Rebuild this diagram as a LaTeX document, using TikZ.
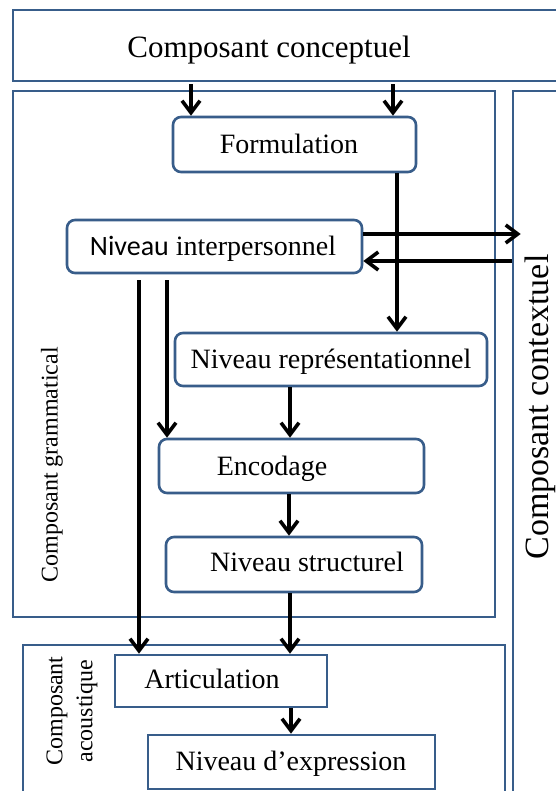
\documentclass[tikz,border=0pt]{standalone}
\usepackage{fontspec}
\setmainfont{Liberation Serif}
\newfontfamily\calib{Carlito}
\usetikzlibrary{arrows.meta,calc,fit}
\definecolor{boxblue}{RGB}{56,93,138}
\begin{document}
\begin{tikzpicture}[x=1pt,y=-1pt,
  frame/.style={draw=boxblue,line width=2.6pt,inner sep=0pt,fill=none},
  rbox/.style={frame,rounded corners=8pt},
  sbox/.style={frame},
  txt/.style={font=\fontsize{28}{32}\selectfont,anchor=base,inner sep=0pt},
  arr/.style={line width=3.6pt,-{Straight Barb[length=12pt,width=18pt]}}]
\useasboundingbox (0,0) rectangle (555,791);
\fill[white] (0,0) rectangle (555,791);

% outer components
\node[sbox,fit={(13,10) (575,81)}] (concept) {};
\node[sbox,fit={(13,91) (495,617)}] (gram) {};
\node[sbox,fit={(513,91) (575,805)}] (ctx) {};
\node[sbox,fit={(23,645) (505,805)}] (acou) {};

\node[font=\fontsize{31}{34}\selectfont,anchor=base,inner sep=0pt] (tconcept) at (269,58) {Composant conceptuel};
\node[font=\fontsize{24}{28}\selectfont,rotate=90,inner sep=0pt] (tgram) at (52,465) {Composant grammatical};
\node[font=\fontsize{34}{38}\selectfont,rotate=90,inner sep=0pt] (tctx) at (540,407) {Composant contextuel};
\node[font=\fontsize{24}{30}\selectfont,rotate=90,inner sep=0pt,align=center] (tacou) at (72,711) {Composant\\acoustique};

% inner boxes
\node[rbox,fit={(173,117) (416,172)}] (form) {};
\node[rbox,fit={(67,220) (362,273)}] (inter) {};
\node[rbox,fit={(175,333) (487,386)}] (rep) {};
\node[rbox,fit={(159,439) (424,493)}] (enc) {};
\node[rbox,fit={(166,537) (422,592)}] (struc) {};
\node[sbox,fit={(115,655) (327,707)}] (artic) {};
\node[sbox,fit={(148,735) (435,789)}] (expr) {};

\node[txt] (tform) at (289,154) {Formulation};
\node[txt] (tinter) at (213,256) {{\calib Niveau} interpersonnel};
\node[txt] (trep) at (331,368) {Niveau représentationnel};
\node[txt] (tenc) at (272,475) {Encodage};
\node[txt] (tstruc) at (307,571) {Niveau structurel};
\node[txt] (tartic) at (212,688) {Articulation};
\node[txt] (texpr) at (291,770) {Niveau d’expression};

% connectors
\draw[arr,shorten <=2pt] (191,0 |- concept.south) -- (191,0 |- form.north);
\draw[arr,shorten <=2pt] (393,0 |- concept.south) -- (393,0 |- form.north);
\draw[arr] (397,0 |- form.south) -- (397,0 |- rep.north);
\draw[arr] (inter.east |- 0,234) -- ($(ctx.west |- 0,234)+(9,0)$);
\draw[arr] (ctx.west |- 0,261) -- (inter.east |- 0,261);
\draw[arr] ($(139,0 |- inter.south)+(0,6)$) -- (139,0 |- artic.north);
\draw[arr] ($(167,0 |- inter.south)+(0,6)$) -- (167,0 |- enc.north);
\draw[arr] (290,0 |- rep.south) -- (290,0 |- enc.north);
\draw[arr] (289,0 |- enc.south) -- (289,0 |- struc.north);
\draw[arr] (290,0 |- struc.south) -- (290,0 |- artic.north);
\draw[arr] (291,0 |- artic.south) -- (291,0 |- expr.north);
\end{tikzpicture}
\end{document}
